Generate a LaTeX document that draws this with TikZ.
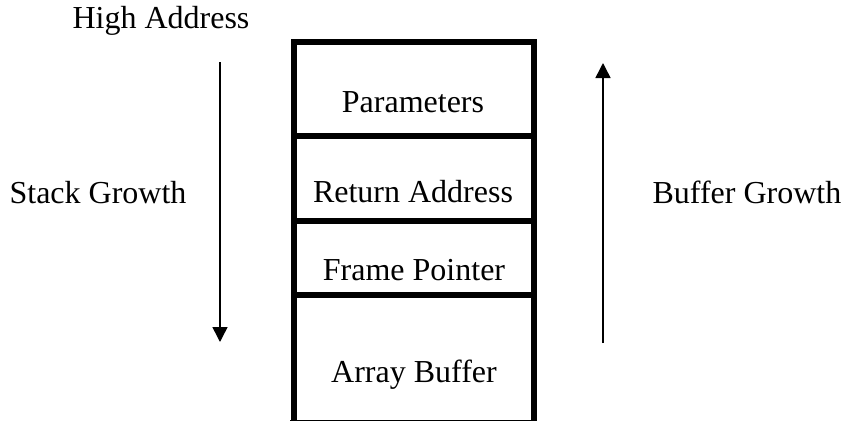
\documentclass[tikz,border=0pt]{standalone}
\usepackage{fontspec}
\setmainfont{Liberation Serif}
\usetikzlibrary{arrows.meta}
\begin{document}
\begin{tikzpicture}[x=1pt,y=-1pt,
  lbl/.style={anchor=base,inner sep=0pt,font=\fontsize{32}{38}\selectfont},
  wall/.style={line width=6pt},
  growth/.style={line width=1.5pt,-{Triangle[width=15pt,length=15pt]}}]
\useasboundingbox (0,0) rectangle (847,421);

% stack frame outline
\draw[wall] (294,39) -- (294,420);
\draw[wall] (534,39) -- (534,420);
\draw[wall] (291,42) -- (537,42);
\draw[wall] (291,136) -- (537,136);
\draw[wall] (291,221) -- (537,221);
\draw[wall] (291,295) -- (537,295);
\draw[line width=1pt] (290,420) -- (537,420);

% cell labels
\node[lbl] (params) at (413,112) {Parameters};
\node[lbl] (ret)    at (413,202) {Return Address};
\node[lbl] (fp)     at (414,280) {Frame Pointer};
\node[lbl] (buf)    at (414,382) {Array Buffer};

% side labels
\node[lbl] (high)  at (161,28)  {High Address};
\node[lbl] (stack) at (98,203)  {Stack Growth};
\node[lbl] (bgrow) at (747,203) {Buffer Growth};

% growth directions
\coordinate (sTop) at (220,62);
\coordinate (sBot) at (220,342);
\coordinate (bBot) at (603,343);
\coordinate (bTop) at (603,63);
\draw[growth] (sTop) -- (sBot);
\draw[growth] (bBot) -- (bTop);
\end{tikzpicture}
\end{document}
